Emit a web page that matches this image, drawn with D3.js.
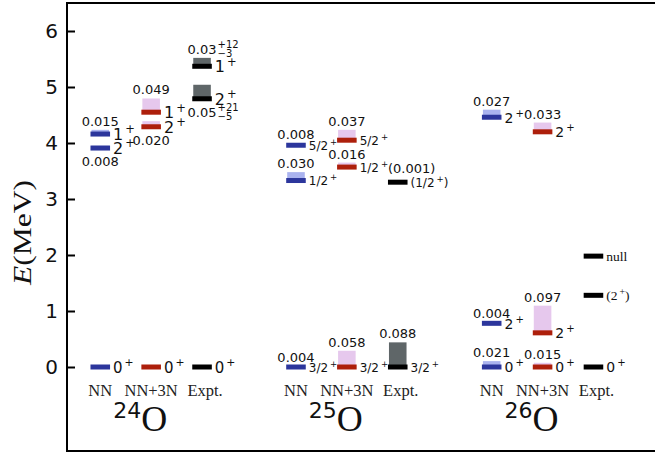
<!DOCTYPE html>
<html>
<head>
<meta charset="utf-8">
<script src="https://cdn.jsdelivr.net/npm/d3@7"></script>
<style>
  body { margin: 0; background: #fff; }
</style>
</head>
<body>
<div id="chart"></div>
<script>
// Oxygen isotope level schemes: NN, NN+3N and experiment

const width = 655;
const height = 457;
const margin = {left: 67, right: -5, top: 3, bottom: 6};

const nuclei = ["24", "25", "26"];
const methods = ["NN", "NN+3N", "Expt."];
const yTicks = [0, 1, 2, 3, 4, 5, 6];

// [method, E (MeV), width (MeV), J^pi, width label, err up, err down]
const levelsO24 = [
  ["NN", 0, 0, "0+", ""],
  ["NN", 3.91, 0.008, "2+", "0.008"],
  ["NN", 4.16, 0.015, "1+", "0.015"],
  ["NN+3N", 0, 0, "0+", ""],
  ["NN+3N", 4.29, 0.020, "2+", "0.020"],
  ["NN+3N", 4.55, 0.049, "1+", "0.049"],
  ["Expt.", 0, 0, "0+", ""],
  ["Expt.", 4.79, 0.05, "2+", "0.05", "+21", "\u22125"],
  ["Expt.", 5.37, 0.03, "1+", "0.03", "+12", "\u22123"]
];
const levelsO25 = [
  ["NN", 0, 0.004, "3/2+", "0.004"],
  ["NN", 3.33, 0.030, "1/2+", "0.030"],
  ["NN", 3.96, 0.008, "5/2+", "0.008"],
  ["NN+3N", 0, 0.058, "3/2+", "0.058"],
  ["NN+3N", 3.57, 0.016, "1/2+", "0.016"],
  ["NN+3N", 4.05, 0.037, "5/2+", "0.037"],
  ["Expt.", 0, 0.088, "3/2+", "0.088"],
  ["Expt.", 3.30, 0.001, "(1/2+)", "(0.001)"]
];
const levelsO26 = [
  ["NN", 0, 0.021, "0+", "0.021"],
  ["NN", 0.78, 0.004, "2+", "0.004"],
  ["NN", 4.46, 0.027, "2+", "0.027"],
  ["NN+3N", 0, 0.015, "0+", "0.015"],
  ["NN+3N", 0.61, 0.097, "2+", "0.097"],
  ["NN+3N", 4.20, 0.033, "2+", "0.033"],
  ["Expt.", 0, 0, "0+", ""],
  ["Expt.", 1.28, 0, "(2+)", ""],
  ["Expt.", 1.98, 0, "null", ""]
];
const allLevels = [levelsO24, levelsO25, levelsO26];

// widths drawn as boxes of height 5*width
const boxScale = 5;

const barColor = {"NN": "#2c369c", "NN+3N": "#ad1f0b", "Expt.": "#000000"};
const boxColor = {"NN": "#aab3ef", "NN+3N": "#e6c8ed", "Expt.": "#5f6668"};
const methodOffset = {"NN": -0.26, "NN+3N": 0, "Expt.": 0.26};
const spinSize = {"24": 15, "25": 12, "26": 14};

const sans = "'DejaVu Sans', sans-serif";
const serif = "'Liberation Serif', 'Times New Roman', serif";

const svg = d3.select("#chart")
  .append("svg")
  .attr("width", width)
  .attr("height", height);

// scales
const x = d3.scaleLinear()
  .domain([-0.43, 2.6])
  .range([margin.left, width - margin.right]);
const y = d3.scaleLinear()
  .domain([-1.5, 6.5])
  .range([height - margin.bottom, margin.top]);

const barW = x(0.05) - x(-0.05);

// frame
svg.append("rect")
  .attr("x", x(-0.43))
  .attr("y", y(6.5))
  .attr("width", x(2.6) - x(-0.43))
  .attr("height", y(-1.5) - y(6.5))
  .attr("fill", "none")
  .attr("stroke", "#000")
  .attr("stroke-width", 2);

// y axis, ticks pointing inward
const yAxis = svg.append("g")
  .attr("transform", `translate(${x(-0.43)},0)`)
  .call(d3.axisLeft(y).tickValues(yTicks).tickSizeInner(-8).tickSizeOuter(0).tickPadding(9));
yAxis.select(".domain").remove();
yAxis.selectAll(".tick line").attr("stroke-width", 2);
yAxis.selectAll(".tick text")
  .attr("font-family", sans)
  .attr("font-size", 20)
  .attr("fill", "#111");

svg.append("text")
  .attr("transform", `translate(31,${y(2.4)}) rotate(-90)`)
  .attr("text-anchor", "middle")
  .attr("font-family", serif)
  .attr("font-size", 25)
  .attr("textLength", 105)
  .attr("lengthAdjust", "spacingAndGlyphs")
  .attr("fill", "#111")
  .html('<tspan font-style="italic">E</tspan>(MeV)');

// write "2+" style labels with a raised plus
function spinText(sel, s, fs) {
  const i = s.indexOf("+");
  if (i < 0) { sel.append("tspan").text(s); return; }
  sel.append("tspan").text(s.slice(0, i));
  sel.append("tspan").attr("dx", 2).attr("dy", -0.42 * fs)
    .attr("font-size", fs * 0.72).text("+");
  if (i < s.length - 1) {
    sel.append("tspan").attr("dy", 0.42 * fs).text(s.slice(i + 1));
  }
}

// width labels placed under the bar instead of above the box
const belowLabel = new Set(["24-NN-2+", "24-NN+3N-2+", "24-Expt.-2+"]);

allLevels.forEach((levels, g) => {
  const nuc = nuclei[g];
  const grp = svg.append("g").attr("class", "nucleus-" + nuc);

  levels.forEach((d) => {
    const [m, E, w, spin, wl, up, down] = d;
    const cx = x(g + methodOffset[m]);

    if (w > 0) {
      grp.append("rect")
        .attr("x", cx - barW / 2 + 1)
        .attr("y", y(E + boxScale * w))
        .attr("width", barW - 2)
        .attr("height", y(E) - y(E + boxScale * w))
        .attr("fill", boxColor[m]);
    }
    grp.append("rect")
      .attr("x", cx - barW / 2)
      .attr("y", y(E) - 2.5)
      .attr("width", barW)
      .attr("height", 5)
      .attr("fill", barColor[m]);

    // spin / parity
    const isSerif = (nuc === "26" && m === "Expt." && E > 0);
    const fs = isSerif ? 13.5 : (nuc === "24" && E > 0 ? 16 : spinSize[nuc]);
    const st = grp.append("text")
      .attr("x", cx + barW / 2 + 3)
      .attr("y", y(E) + 0.38 * fs)
      .attr("font-family", isSerif ? serif : sans)
      .attr("font-size", fs)
      .attr("fill", "#111");
    spinText(st, spin, fs);

    // width value
    if (wl) {
      const below = belowLabel.has(nuc + "-" + m + "-" + spin);
      let ly = below ? y(E) + 18 : y(E + boxScale * w) - 4;
      let anchor = "middle";
      let lx = cx;
      if (wl.startsWith("(")) { anchor = "start"; lx = cx - barW / 2; ly -= 5; }
      const t = grp.append("text")
        .attr("x", lx)
        .attr("y", ly)
        .attr("text-anchor", anchor)
        .attr("font-family", sans)
        .attr("font-size", 13)
        .attr("fill", "#111")
        .text(wl);
      if (up) {
        const ex = cx + t.node().getComputedTextLength() / 2 + 1;
        grp.append("text").attr("x", ex).attr("y", ly - 6)
          .attr("font-family", sans).attr("font-size", 10).attr("fill", "#111").text(up);
        grp.append("text").attr("x", ex).attr("y", ly + 3)
          .attr("font-family", sans).attr("font-size", 10).attr("fill", "#111").text(down);
      }
    }
  });

  // method names
  methods.forEach((m) => {
    grp.append("text")
      .attr("x", x(g + methodOffset[m]) + (m === "Expt." ? 3 : 0))
      .attr("y", 396)
      .attr("text-anchor", "middle")
      .attr("font-family", serif)
      .attr("font-size", 16.5)
      .attr("fill", "#222")
      .text(m);
  });

  // nucleus name
  const nt = grp.append("text")
    .attr("x", x(g) - 38)
    .attr("y", 418)
    .attr("fill", "#111");
  nt.append("tspan").attr("font-family", sans).attr("font-size", 22).text(nuc);
  nt.append("tspan").attr("dy", 13).attr("font-family", serif).attr("font-size", 36).text("O");
});
</script>
</body>
</html>
